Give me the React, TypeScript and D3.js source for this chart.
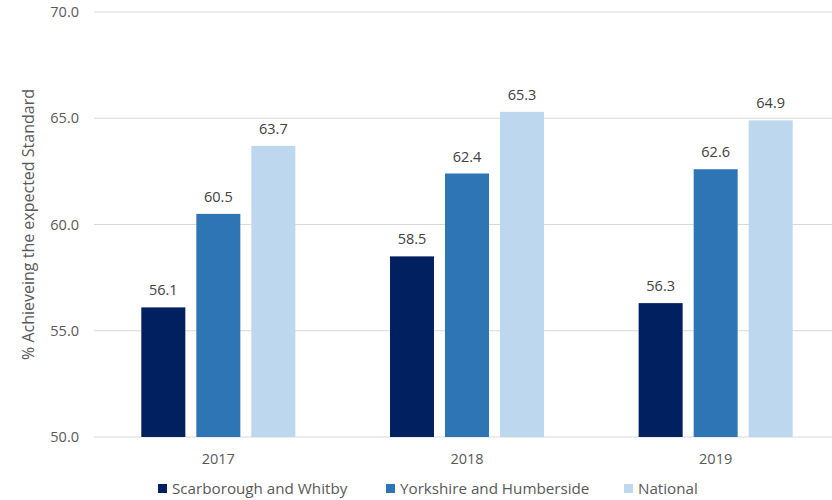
import React from 'react';
import * as d3 from 'd3';

const years = ['2017', '2018', '2019'];
const seriesNames = ['Scarborough and Whitby', 'Yorkshire and Humberside', 'National'];
const scarborough = [56.1, 58.5, 56.3];
const yorkshire = [60.5, 62.4, 62.6];
const national = [63.7, 65.3, 64.9];
const yTicks = [50, 55, 60, 65, 70];

const colors = ['#002060', '#2E75B6', '#BDD7EE'];
const font = '"Open Sans", "Noto Sans", sans-serif';

const App: React.FC = () => {
  const width = 832;
  const height = 500;
  const left = 94;
  const right = 840;
  const top = 12;
  const bottom = 437;

  const x = d3.scaleBand<string>().domain(years).range([left, right]);
  const inner = d3.scaleBand<string>().domain(seriesNames).range([0, x.bandwidth()]).paddingInner(0.2).paddingOuter(0.86);
  const y = d3.scaleLinear().domain([50, 70]).range([bottom, top]);
  const series = [scarborough, yorkshire, national];

  const legendX = [158, 386, 624];

  return (
    <svg width={width} height={height} style={{ position: 'absolute', left: 0, top: 0 }}>
      {yTicks.map((t) => (
        <g key={t}>
          <line x1={left} x2={width} y1={y(t)} y2={y(t)} stroke="#d9d9d9" strokeWidth={1} />
          <text x={79} y={y(t)} dy="0.35em" textAnchor="end" fontSize={14.5} fill="#595959" fontFamily={font}>
            {t.toFixed(1)}
          </text>
        </g>
      ))}
      {years.map((yr, i) => (
        <g key={yr}>
          {series.map((vals, s) => {
            const bx = (x(yr) ?? 0) + (inner(seriesNames[s]) ?? 0);
            const bw = inner.bandwidth();
            return (
              <g key={s}>
                <rect x={bx} y={y(vals[i])} width={bw} height={bottom - y(vals[i])} fill={colors[s]} />
                <text x={bx + bw / 2} y={y(vals[i]) - 12} textAnchor="middle" fontSize={14.5} fill="#404040" fontFamily={font}>
                  {vals[i].toFixed(1)}
                </text>
              </g>
            );
          })}
          <text x={(x(yr) ?? 0) + x.bandwidth() / 2} y={459} dy="0.35em" textAnchor="middle" fontSize={14.5} fill="#595959" fontFamily={font}>
            {yr}
          </text>
        </g>
      ))}
      <text
        transform={`translate(34, ${(top + bottom) / 2}) rotate(-90)`}
        textAnchor="middle"
        fontSize={16}
        fill="#595959"
        fontFamily={font}
      >
        % Achieveing the expected Standard
      </text>
      {seriesNames.map((name, s) => (
        <g key={name}>
          <rect x={legendX[s]} y={484} width={9} height={9} fill={colors[s]} />
          <text x={legendX[s] + 14} y={488.5} dy="0.35em" fontSize={15.2} fill="#595959" fontFamily={font}>
            {name}
          </text>
        </g>
      ))}
    </svg>
  );
};

export default App;
